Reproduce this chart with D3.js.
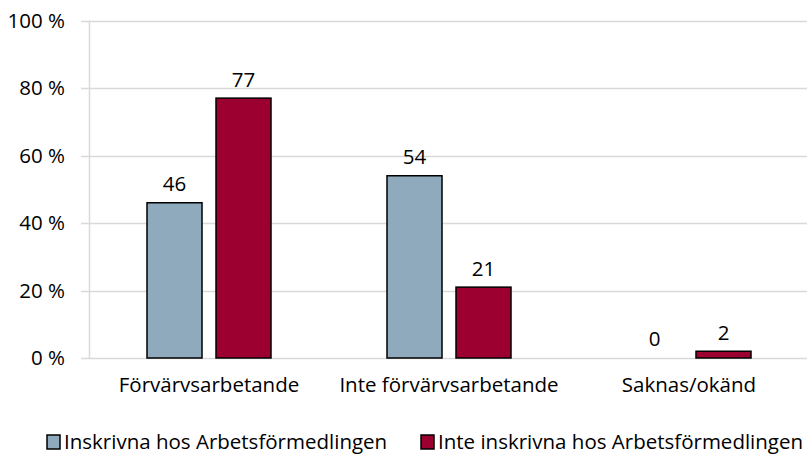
<!DOCTYPE html>
<html>
<head>
<meta charset="utf-8">
<script src="https://cdn.jsdelivr.net/npm/d3@7"></script>
<style>
  body { margin: 0; background: #fff; }
  text { font-family: "Open Sans", sans-serif; fill: #000; }
</style>
</head>
<body>
<div id="chart"></div>
<script>
var categories = ["Förvärvsarbetande", "Inte förvärvsarbetande", "Saknas/okänd"];
var seriesNames = ["Inskrivna hos Arbetsförmedlingen", "Inte inskrivna hos Arbetsförmedlingen"];
var inskrivna = [46, 54, 0];
var inteInskrivna = [77, 21, 2];
var yTicks = [0, 20, 40, 60, 80, 100];

var colors = ["#8faabc", "#9b0030"];
var series = [inskrivna, inteInskrivna];

var svg = d3.select("#chart")
  .append("svg")
  .attr("width", 807)
  .attr("height", 454);

// scales
var x = d3.scaleBand()
  .domain(categories)
  .range([89, 809]);

var y = d3.scaleLinear()
  .domain([0, 100])
  .range([358, 20.5]);

var barW = 55, gap = 14;
var fs = "20.5px";

// grid lines
svg.append("g")
  .selectAll("line")
  .data(yTicks)
  .enter()
  .append("line")
    .attr("x1", 81)
    .attr("x2", 807)
    .attr("y1", function(d) { return Math.round(y(d)) + 0.5; })
    .attr("y2", function(d) { return Math.round(y(d)) + 0.5; })
    .attr("stroke", "#d9d9d9")
    .style("stroke-width", 1.5);

// y axis line
svg.append("line")
  .attr("x1", 89.5).attr("x2", 89.5)
  .attr("y1", y(100)).attr("y2", y(0))
  .attr("stroke", "#d9d9d9")
  .style("stroke-width", 1.5);

// y tick labels
svg.append("g")
  .selectAll("text")
  .data(yTicks)
  .enter()
  .append("text")
    .attr("x", 65)
    .attr("y", function(d) { return y(d); })
    .attr("dy", "0.36em")
    .attr("text-anchor", "end")
    .style("font-size", fs)
    .text(function(d) { return d + " %"; });

// bars
series.forEach(function(vals, s) {
  var g = svg.append("g");
  g.selectAll("rect")
    .data(vals)
    .enter()
    .filter(function(d) { return d > 0; })
    .append("rect")
      .attr("x", function(d, i) {
        var c = x(categories[i]) + x.bandwidth() / 2;
        return s === 0 ? c - gap / 2 - barW : c + gap / 2;
      })
      .attr("y", function(d) { return y(d); })
      .attr("width", barW)
      .attr("height", function(d) { return y(0) - y(d); })
      .attr("fill", colors[s])
      .attr("stroke", "#000")
      .style("stroke-width", 1.5);

  g.selectAll("text")
    .data(vals)
    .enter()
    .append("text")
      .attr("x", function(d, i) {
        var c = x(categories[i]) + x.bandwidth() / 2;
        return s === 0 ? c - gap / 2 - barW / 2 : c + gap / 2 + barW / 2;
      })
      .attr("y", function(d) { return y(d) - 19; })
      .attr("dy", "0.36em")
      .attr("text-anchor", "middle")
      .style("font-size", fs)
      .text(function(d) { return d; });
});

// category labels
svg.append("g")
  .selectAll("text")
  .data(categories)
  .enter()
  .append("text")
    .attr("x", function(d) { return x(d) + x.bandwidth() / 2; })
    .attr("y", 385)
    .attr("dy", "0.36em")
    .attr("text-anchor", "middle")
    .style("font-size", fs)
    .text(function(d) { return d; });

// legend
var legendX = [47, 421];
var legend = svg.append("g")
  .selectAll("g")
  .data(seriesNames)
  .enter()
  .append("g")
    .attr("transform", function(d, i) { return "translate(" + legendX[i] + ",0)"; });

legend.append("rect")
  .attr("x", 0)
  .attr("y", 435)
  .attr("width", 13)
  .attr("height", 14)
  .attr("fill", function(d, i) { return colors[i]; })
  .attr("stroke", "#000")
  .style("stroke-width", 1.5);

legend.append("text")
  .attr("x", 17)
  .attr("y", 442)
  .attr("dy", "0.36em")
  .style("font-size", fs)
  .text(function(d) { return d; });
</script>
</body>
</html>
